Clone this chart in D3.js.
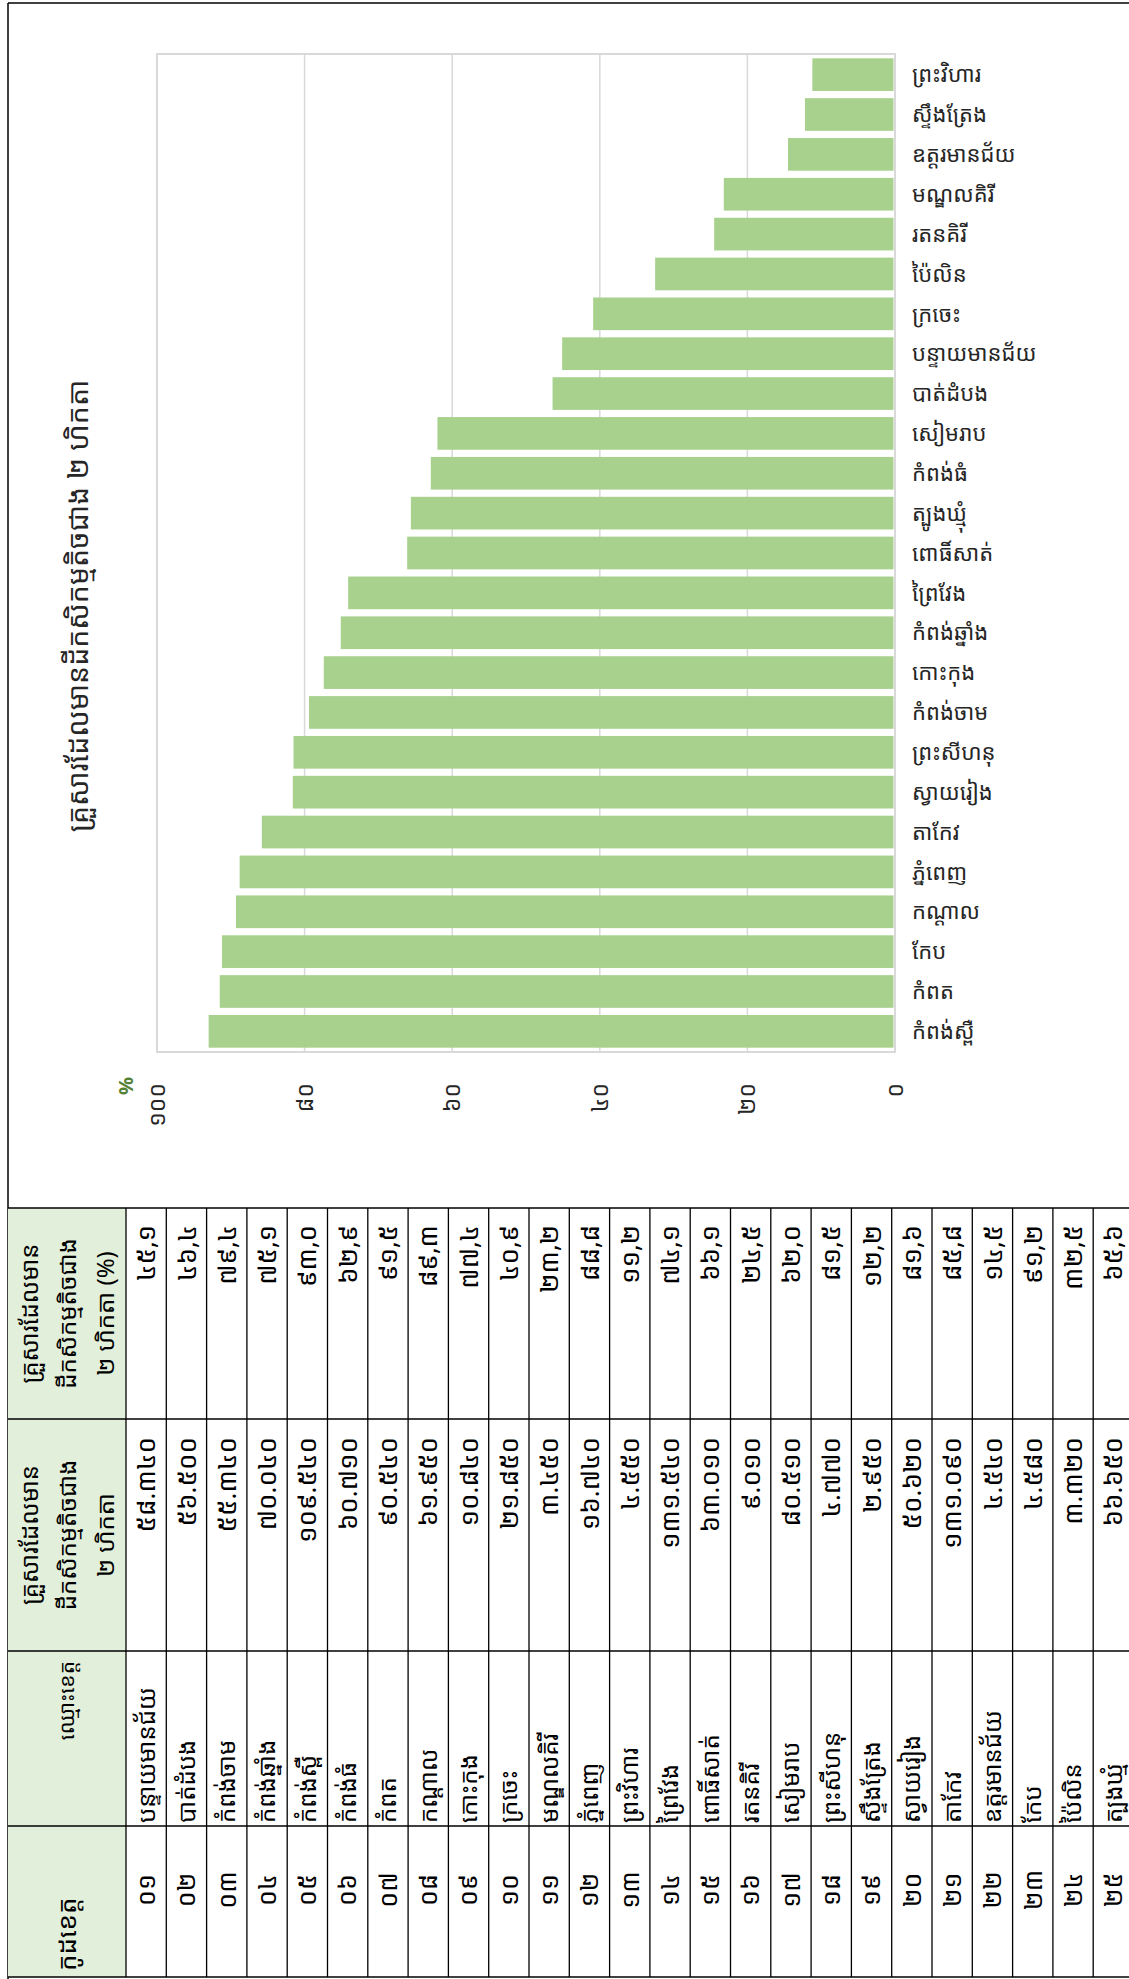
<!DOCTYPE html>
<html><head><meta charset="utf-8">
<script src="https://cdn.jsdelivr.net/npm/d3@7"></script>
<style>
body{margin:0;background:#fff}
svg text{font-family:"Noto Sans Khmer","Noto Sans",sans-serif;fill:#000}
</style></head><body>
<svg id="c" width="1129" height="1979"></svg>
<script>
// ---- data ----
const codes = ["០១","០២","០៣","០៤","០៥","០៦","០៧","០៨","០៩","១០","១១","១២","១៣","១៤","១៥","១៦","១៧","១៨","១៩","២០","២១","២២","២៣","២៤","២៥"];
const provinces = ["បន្ទាយមានជ័យ","បាត់ដំបង","កំពង់ចាម","កំពង់ឆ្នាំង","កំពង់ស្ពឺ","កំពង់ធំ","កំពត","កណ្ដាល","កោះកុង","ក្រចេះ","មណ្ឌលគិរី","ភ្នំពេញ","ព្រះវិហារ","ព្រៃវែង","ពោធិ៍សាត់","រតនគិរី","សៀមរាប","ព្រះសីហនុ","ស្ទឹងត្រែង","ស្វាយរៀង","តាកែវ","ឧត្តរមានជ័យ","កែប","ប៉ៃលិន","ត្បូងឃ្មុំ"];
const households = [58340,56500,55340,70040,109540,60710,90540,61950,10840,21850,3450,16740,4550,131540,63010,9010,80510,4770,2950,50620,131090,4540,4580,3320,66650];
const percents = [45.1,46.4,79.4,75.1,93.0,62.9,91.5,89.3,77.4,40.9,23.2,88.8,11.2,74.1,66.1,24.5,62.0,81.5,12.2,81.6,85.8,14.5,91.2,32.5,65.6];
const tickValues = [0,20,40,60,80,100];
const tickLabels = ["០","២០","៤០","៦០","៨០","១០០"];
const chartTitle = "គ្រួសារដែលមានដីកសិកម្មតិចជាង ២ ហិកតា";
const unitLabel = "%";
const headerCode = ["កូដខេត្ត"];
const headerName = ["ឈ្មោះខេត្ត"];
const headerCount = ["គ្រួសារដែលមាន","ដីកសិកម្មតិចជាង","២ ហិកតា"];
const headerPct = ["គ្រួសារដែលមាន","ដីកសិកម្មតិចជាង","២ ហិកតា (%)"];

const KD = "០១២៣៤៥៦៧៨៩";
const kh = s => String(s).replace(/[0-9]/g, d => KD[+d]);
const fmtPct = v => kh(v.toFixed(1).replace(".", ","));
const fmtCount = v => kh(d3.format(",")(v).replace(/,/g, "."));

const svg = d3.select("#c");
const rot = (x, y) => `translate(${x},${y}) rotate(-90)`;

// ---- page frame ----
svg.append("line").attr("x1",8).attr("x2",8).attr("y1",3).attr("y2",1979).attr("stroke","#000").attr("stroke-width",1.5);
svg.append("line").attr("x1",8).attr("x2",1129).attr("y1",3).attr("y2",3).attr("stroke","#000").attr("stroke-width",1.5);

// ---- chart ----
const rows = provinces.map((p,i)=>({p, v:percents[i]})).sort((a,b)=>a.v-b.v);
const x = d3.scaleLinear().domain([0,100]).range([895,157]);
const y = d3.scaleBand().domain(rows.map(d=>d.p)).range([54,1052]).paddingInner(0.18).paddingOuter(0.108);

const g = svg.append("g");
g.selectAll("line.grid").data(tickValues.filter(t=>t>0&&t<100)).join("line")
  .attr("class","grid").attr("x1",d=>x(d)).attr("x2",d=>x(d)).attr("y1",54).attr("y2",1052)
  .attr("stroke","#d9d9d9").attr("stroke-width",1.5);
g.append("rect").attr("x",x(100)).attr("y",54).attr("width",x(0)-x(100)).attr("height",1052-54)
  .attr("fill","none").attr("stroke","#d9d9d9").attr("stroke-width",2);
g.selectAll("rect.bar").data(rows).join("rect").attr("class","bar")
  .attr("x",d=>x(d.v)).attr("y",d=>y(d.p)).attr("width",d=>x(0)-1.5-x(d.v)).attr("height",y.bandwidth())
  .attr("fill","#a9d18e");
g.selectAll("text.cat").data(rows).join("text").attr("class","cat")
  .attr("x",912).attr("y",d=>y(d.p)+y.bandwidth()/2).attr("dy","0.35em")
  .attr("font-size",22).style("fill","#262626").text(d=>d.p);
g.selectAll("text.tick").data(tickValues).join("text").attr("class","tick")
  .attr("transform",d=>rot(x(d),1083)).attr("dy","0.35em").attr("text-anchor","end")
  .attr("font-size",23).style("fill","#262626").text((d,i)=>tickLabels[i]);
g.append("text").attr("transform",rot(126,1086)).attr("dy","0.35em").attr("text-anchor","middle")
  .attr("font-size",20).attr("font-weight","bold").style("fill","#548235").text(unitLabel);
g.append("text").attr("transform",rot(78,606)).attr("dy","0.35em").attr("text-anchor","middle")
  .attr("font-size",28.5).style("fill","#262626").text(chartTitle);

// ---- table ----
const T = {top:1208, pc:1419, cn:1651, nc:1826, bot:1977, hx0:8, hx1:126};
const rowW = 40.3;
const rx = d3.scaleBand().domain(d3.range(codes.length)).range([T.hx1, T.hx1 + rowW*codes.length]);
const t = svg.append("g");
t.append("rect").attr("x",T.hx0).attr("y",T.top).attr("width",T.hx1-T.hx0).attr("height",T.bot-T.top).attr("fill","#e2efda");
[T.top,T.pc,T.cn,T.nc,T.bot].forEach(yy=>t.append("line").attr("x1",T.hx0).attr("x2",1129).attr("y1",yy).attr("y2",yy).attr("stroke","#000").attr("stroke-width",1.5));
d3.range(codes.length+1).forEach(i=>{const xx=T.hx1+i*rowW; t.append("line").attr("x1",xx).attr("x2",xx).attr("y1",T.top).attr("y2",T.bot).attr("stroke","#000").attr("stroke-width",1.3);});

const hdr = (lines, yy, anchor, fs) => {
  const n = lines.length; const xs = n===1 ? [67] : [30,68,106];
  lines.forEach((s,i)=>t.append("text").attr("transform",rot(xs[i],yy)).attr("dy","0.35em").attr("text-anchor",anchor).attr("font-size",fs).text(s));
};
hdr(headerPct, (T.top+T.pc)/2, "middle", 24);
hdr(headerCount, (T.pc+T.cn)/2, "middle", 24);
hdr(headerName, T.cn+10, "end", 21);
hdr(headerCode, T.bot-6, "start", 26);

codes.forEach((c,i)=>{
  const cx = rx(i)+rx.bandwidth()/2;
  t.append("text").attr("transform",rot(cx,T.top+17)).attr("dy","0.35em").attr("text-anchor","end").attr("font-size",26).text(fmtPct(percents[i]));
  t.append("text").attr("transform",rot(cx,T.pc+18)).attr("dy","0.35em").attr("text-anchor","end").attr("font-size",26).text(fmtCount(households[i]));
  t.append("text").attr("transform",rot(cx,T.nc-3)).attr("dy","0.35em").attr("text-anchor","start").attr("font-size",24).text(provinces[i]);
  t.append("text").attr("transform",rot(cx,1890)).attr("dy","0.35em").attr("text-anchor","middle").attr("font-size",25).text(c);
});
</script></body></html>
